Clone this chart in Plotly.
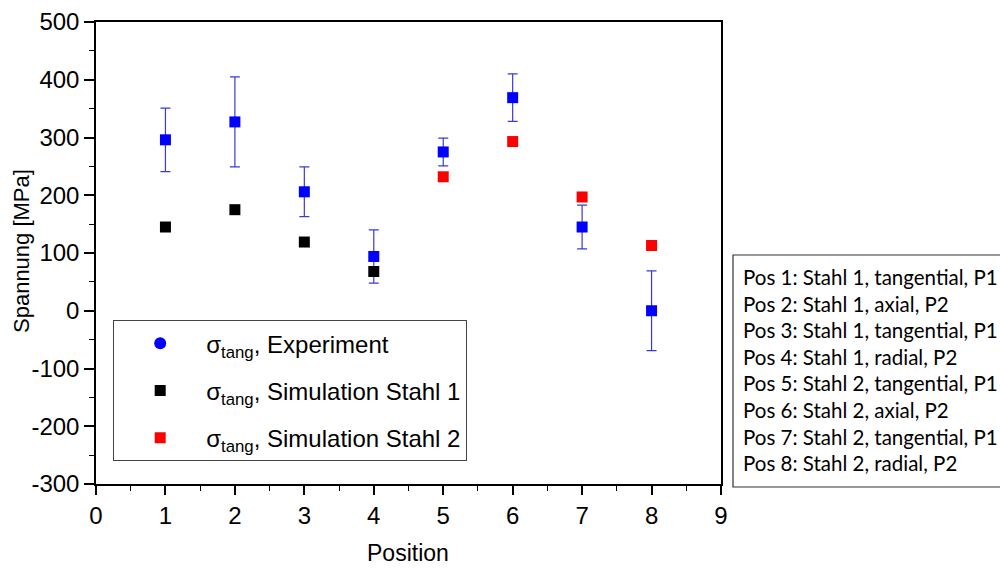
import plotly.graph_objects as go

# Measured stresses per position
positions = [1, 2, 3, 4, 5, 6, 7, 8]
exp_values = [296, 327, 206, 94, 275, 369, 145, 0]
exp_errors = [55, 78, 43, 46, 24, 41, 38, 69]

# Simulated stresses
sim1_pos = [1, 2, 3, 4]
sim1_values = [145, 175, 119, 68]
sim2_pos = [5, 6, 7, 8]
sim2_values = [232, 293, 197, 113]

y_ticks = [-300, -200, -100, 0, 100, 200, 300, 400, 500]
y_ticklabels = ["-300", "-200", "-100", "0", "100", "200", "300", "400", "500"]
x_ticks = [0, 1, 2, 3, 4, 5, 6, 7, 8, 9]

pos_notes = [
    "Pos 1: Stahl 1, tangential, P1",
    "Pos 2: Stahl 1, axial, P2",
    "Pos 3: Stahl 1, tangential, P1",
    "Pos 4: Stahl 1, radial, P2",
    "Pos 5: Stahl 2, tangential, P1",
    "Pos 6: Stahl 2, axial, P2",
    "Pos 7: Stahl 2, tangential, P1",
    "Pos 8: Stahl 2, radial, P2",
]

L, R, T, B = 96, 279, 22, 84
W, H = 1000, 568
PW, PH = W - L - R, H - T - B


def px_x(px):
    return (px - L) / PW


def px_y(py):
    return (H - B - py) / PH


fig = go.Figure()

fig.add_trace(go.Scatter(
    x=positions, y=exp_values, mode="markers",
    marker=dict(symbol="square", size=11, color="#0000ff"),
    error_y=dict(type="data", array=exp_errors, visible=True,
                 color="#3a3adc", thickness=1.2, width=5),
    showlegend=False,
))
# legend entry for the experiment series (round marker)
fig.add_trace(go.Scatter(
    x=[None], y=[None], mode="markers",
    marker=dict(symbol="circle", size=12, color="#0000ff"),
    name="σ<sub>tang</sub>, Experiment", legendgroup="a",
))
fig.add_trace(go.Scatter(
    x=sim1_pos, y=sim1_values, mode="markers",
    marker=dict(symbol="square", size=11, color="#000000"),
    name="σ<sub>tang</sub>, Simulation Stahl 1", legendgroup="b",
))
fig.add_trace(go.Scatter(
    x=sim2_pos, y=sim2_values, mode="markers",
    marker=dict(symbol="square", size=11, color="#ff0000"),
    name="σ<sub>tang</sub>, Simulation Stahl 2", legendgroup="c",
))

FAM = "Liberation Sans, Arial, sans-serif"
axis_font = dict(family=FAM, size=24, color="#000")

fig.update_xaxes(
    range=[0, 9], tickvals=x_ticks, ticktext=[str(v) for v in x_ticks],
    showline=True, linecolor="#000", linewidth=1.5, mirror=True,
    ticks="outside", ticklen=9, tickwidth=1.5, tickcolor="#000",
    minor=dict(dtick=0.5, tick0=0, ticks="outside", ticklen=5, tickwidth=1.2, tickcolor="#000"),
    showgrid=False, zeroline=False, automargin=False,
    tickfont=axis_font,
)
fig.update_yaxes(
    range=[-300, 500], tickvals=y_ticks, ticktext=y_ticklabels,
    showline=True, linecolor="#000", linewidth=1.5, mirror=True,
    ticks="outside", ticklen=10, tickwidth=1.5, tickcolor="#000",
    minor=dict(dtick=50, tick0=0, ticks="outside", ticklen=5, tickwidth=1.2, tickcolor="#000"),
    showgrid=False, zeroline=False, automargin=False,
    tickfont=axis_font,
)

# axis titles
fig.add_annotation(xref="paper", yref="paper", x=px_x(408), y=px_y(553),
                   xanchor="center", yanchor="middle", showarrow=False,
                   text="Position", font=dict(family=FAM, size=23, color="#000"))
fig.add_annotation(xref="paper", yref="paper", x=px_x(21), y=px_y(251),
                   xanchor="center", yanchor="middle", showarrow=False, textangle=-90,
                   text="Spannung [MPa]", font=dict(family=FAM, size=22, color="#000"))

# positions description box
fig.add_shape(type="rect", xref="paper", yref="paper",
              x0=px_x(733), x1=px_x(1010), y0=px_y(487), y1=px_y(255),
              line=dict(color="#333", width=1.2), fillcolor="rgba(0,0,0,0)")
for i, note in enumerate(pos_notes):
    fig.add_annotation(
        xref="paper", yref="paper", x=px_x(741), y=px_y(277 + i * 26.6),
        xanchor="left", yanchor="middle", showarrow=False, text=note,
        font=dict(family="Lato, Open Sans, sans-serif", size=20.5, color="#000"),
    )

fig.update_layout(
    width=W, height=H,
    margin=dict(l=L, r=R, t=T, b=B, autoexpand=False),
    paper_bgcolor="#fff", plot_bgcolor="#fff",
    legend=dict(
        x=px_x(113), y=px_y(320), xanchor="left", yanchor="top",
        bgcolor="#fff", bordercolor="#444", borderwidth=1.2,
        font=dict(family=FAM, size=24, color="#000"),
        traceorder="grouped", tracegroupgap=13, itemwidth=82,
    ),
)

fig.write_html("out.html")
